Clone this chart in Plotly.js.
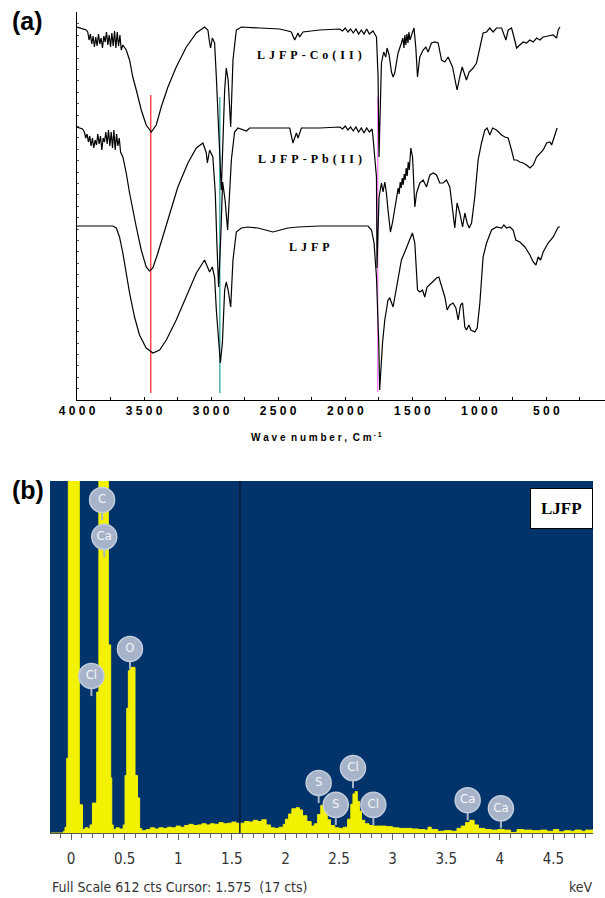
<!DOCTYPE html>
<html>
<head>
<meta charset="utf-8">
<script src="https://cdn.plot.ly/plotly-3.0.1.min.js"></script>
<style>html,body{margin:0;padding:0;background:#fff}#chart{width:605px;height:898px}</style>
</head>
<body>
<div id="chart"></div>
<script>
// ---------- Panel (a): FTIR spectra (wavenumber cm^-1, offset transmittance a.u.) ----------
const coWave = [4000,3931,3920,3910,3900,3890,3880,3870,3860,3850,3840,3830,3820,3810,3800,3790,3780,3770,3760,3750,3740,3730,3720,3710,3700,3690,3680,3670,3658,3633,3608,3584,3558,3521,3484,3446,3409,3372,3322,3260,3185,3110,3049,3024,3011,3004,2991,2974,2961,2949,2937,2924,2914,2899,2887,2873,2854,2837,2812,2775,2638,2489,2427,2402,2377,2352,2340,2315,2190,2041,2020,2000,1980,1960,1940,1920,1900,1880,1860,1840,1820,1800,1793,1767,1755,1748,1730,1713,1698,1688,1673,1655,1643,1631,1606,1581,1570,1562,1555,1548,1540,1532,1525,1518,1505,1487,1474,1461,1444,1419,1399,1382,1357,1332,1307,1282,1257,1233,1200,1183,1166,1146,1128,1113,1096,1076,1046,1021,996,972,946,922,897,872,834,822,802,785,760,742,722,698,673,648,623,598,573,548,524,487,449,424,412,399];
const coT    = [373,370,368,360,366,356,364,353,363,354,366,356,362,352,364,358,368,355,365,353,367,354,369,352,368,354,365,350,355,350,340,323,310,290,275,268,275,293,313,333,353,367,373,370,357,352,362,357,323,293,250,210,250,310,332,320,273,340,370,373,372,371,369,368,360,367,363,368,370,371,369,372,368,371,367,371,366,370,366,371,366,369,369,363,323,243,337,348,343,352,345,328,323,327,347,357,362,352,365,355,366,357,368,360,366,372,353,323,343,350,353,348,357,358,357,340,338,343,333,320,310,323,333,327,320,328,332,337,353,367,368,372,368,372,372,368,360,370,372,363,352,355,358,357,360,358,362,360,363,364,365,362,370,373];

const pbWave = [4000,3959,3945,3935,3925,3915,3905,3895,3885,3875,3865,3855,3845,3835,3825,3815,3805,3795,3785,3775,3765,3755,3745,3735,3725,3715,3705,3695,3685,3675,3658,3633,3608,3584,3558,3521,3484,3459,3434,3397,3360,3310,3248,3173,3110,3061,3036,3028,3011,2987,2969,2957,2944,2929,2914,2896,2877,2849,2825,2800,2737,2713,2414,2390,2364,2352,2327,2190,2040,2020,2000,1980,1960,1940,1920,1900,1880,1860,1840,1820,1800,1793,1780,1767,1763,1748,1730,1718,1705,1693,1681,1663,1648,1618,1605,1598,1590,1583,1575,1568,1560,1553,1545,1538,1530,1522,1515,1511,1498,1481,1468,1444,1419,1394,1369,1345,1319,1295,1270,1245,1220,1200,1183,1166,1146,1125,1108,1091,1076,1058,1034,1009,984,959,942,922,901,872,834,810,785,760,742,722,698,673,648,623,598,573,548,524,498,474,461,449,437,424,420];
const pbT    = [273,271,268,262,266,258,264,254,262,252,260,255,266,256,264,250,262,258,268,256,270,254,268,252,270,250,266,254,262,248,243,227,207,190,173,150,133,129,132,147,163,187,213,237,252,257,247,237,250,243,207,157,113,160,218,200,170,240,268,272,269,272,272,257,267,262,272,272,273,271,274,270,273,269,273,268,272,267,272,268,271,263,240,223,132,203,217,208,218,207,190,168,177,203,212,206,218,212,222,215,226,220,232,224,238,230,245,252,243,193,207,217,220,213,225,227,225,217,217,220,213,190,172,197,187,173,187,177,172,177,203,240,257,270,272,265,272,270,265,263,262,250,240,240,238,237,235,232,235,243,247,250,257,258,255,260,265,270,272];

const ljfpWave = [4000,3733,3707,3683,3658,3633,3608,3571,3534,3484,3434,3384,3334,3260,3185,3110,3049,3024,3011,2991,2974,2961,2949,2931,2916,2899,2887,2873,2854,2837,2812,2775,2725,2651,2539,2427,2352,2190,1830,1804,1785,1767,1750,1743,1722,1705,1681,1668,1643,1606,1581,1556,1519,1499,1481,1461,1444,1424,1407,1390,1357,1319,1302,1282,1257,1240,1220,1196,1175,1158,1140,1125,1108,1096,1078,1063,1034,1016,996,972,946,909,872,834,817,797,772,748,728,698,660,623,598,578,561,543,524,487,449,412,399];
const ljfpT    = [174,174,172,163,147,127,107,83,65,52,47,50,60,80,103,127,140,132,128,133,123,90,70,37,57,110,118,110,93,140,168,172,173,172,168,172,173,174,174,170,157,123,57,10,57,80,100,102,93,123,140,148,160,167,157,110,108,110,103,113,117,122,123,113,103,90,95,97,92,80,95,97,73,70,75,70,68,72,97,143,157,170,173,172,175,172,173,170,160,158,153,145,138,135,143,140,148,157,163,173,173];

const irTickVals = [4000,3500,3000,2500,2000,1500,1000,500];
const irTickText = ['4 0 0 0','3 5 0 0','3 0 0 0','2 5 0 0','2 0 0 0','1 5 0 0','1 0 0 0','5 0 0'];
const irMinorVals = [3750,3250,2750,2250,1750,1250,750,250];
const traceNames = ['LJFP-Co(II)','LJFP-Pb(II)','LJFP'];
const traceLabelWave = [2265,2265,2265];
const traceLabelT = [345,241,153];
// reference band markers
const bandWave = [3450,2935,1758];
const bandBottom = [7,7,8];
const bandTop = [305,303,303];
const bandColors = ['#ff3030','#2aa8a8','#ff88ff'];

// ---------- Panel (b): EDS spectrum ----------
const fullScale = 612, cursorE = 1.575, cursorCts = 17;
const edsE = [-0.19,-0.07,-0.056,-0.04,-0.025,0.077,0.107,0.13,0.16,0.177,0.20,0.24,0.26,0.348,0.37,0.38,0.394,0.42,0.45,0.487,0.504,0.52,0.535,0.55,0.597,0.62,0.64,0.66,0.70,0.74,0.78,0.82,0.86,0.90,0.94,0.98,1.02,1.06,1.10,1.14,1.18,1.22,1.26,1.30,1.34,1.38,1.42,1.46,1.50,1.54,1.58,1.62,1.66,1.70,1.74,1.78,1.82,1.86,1.90,1.94,1.98,2.00,2.03,2.06,2.10,2.13,2.16,2.20,2.24,2.27,2.30,2.33,2.36,2.39,2.42,2.46,2.50,2.54,2.58,2.61,2.63,2.65,2.67,2.69,2.71,2.74,2.78,2.82,2.88,2.94,3.00,3.06,3.12,3.18,3.24,3.30,3.33,3.36,3.42,3.48,3.55,3.60,3.64,3.68,3.72,3.76,3.80,3.86,3.92,3.98,4.04,4.10,4.16,4.22,4.30,4.38,4.44,4.50,4.55,4.60,4.66,4.70,4.76,4.80,4.87];
const edsCts = [0,3,10,130,1200,49,6,9,7,14,52,245,1100,327,96,14,6,9,7,14,100,217,282,288,100,61,8,4,6,9,7,9,8,10,9,12,10,13,15,13,14,16,14,16,15,18,16,17,19,17,17,20,19,22,20,23,14,9,8,10,15,24,33,42,44,40,30,20,12,16,32,48,38,23,13,9,8,10,24,50,68,72,55,38,22,16,13,12,12,11,9,8,8,7,6,5,10,6,3,4,3,8,12,18,22,14,8,6,5,6,5,1,6,5,4,5,3,6,2,4,3,5,3,5,4];
const elemNames = ['C','Ca','Cl','O','S','S','Cl','Cl','Ca','Ca'];
const elemE = [0.29,0.31,0.19,0.55,2.31,2.47,2.63,2.82,3.70,4.01];
const elemCts = [579,515,273,320,87,49,113,49,57,43];

const W = 605, H = 898;
const px = v => v / W, py = v => (H - v) / H;
const spaced = s => s.split('').join('\u2004');

const traces = [];
bandWave.forEach((w,i)=>traces.push({x:[w,w],y:[bandBottom[i],bandTop[i]],xaxis:'x',yaxis:'y',mode:'lines',
  line:{color:bandColors[i],width:1.3},hoverinfo:'skip',showlegend:false}));
[[coWave,coT],[pbWave,pbT],[ljfpWave,ljfpT]].forEach(([xw,yt])=>traces.push({x:xw,y:yt,xaxis:'x',yaxis:'y',mode:'lines',
  line:{color:'#000',width:1.2},showlegend:false}));

// EDS
traces.push({x:edsE,y:edsCts,xaxis:'x2',yaxis:'y2',mode:'lines',line:{shape:'hv',color:'#f2f200',width:1},
  fill:'tozeroy',fillcolor:'#f2f200',showlegend:false});
traces.push({x:[cursorE,cursorE],y:[0,fullScale],xaxis:'x2',yaxis:'y2',mode:'lines',line:{color:'#0b1a33',width:1.5},showlegend:false});
const stubX=[], stubY=[];
elemE.forEach((e,i)=>{stubX.push(e,e,null);stubY.push(elemCts[i]-18,elemCts[i]-35,null);});
traces.push({x:stubX,y:stubY,xaxis:'x2',yaxis:'y2',mode:'lines',line:{color:'#a9b5c9',width:2},showlegend:false});
traces.push({x:elemE,y:elemCts,xaxis:'x2',yaxis:'y2',mode:'markers+text',text:elemNames,textposition:'middle center',
  marker:{size:25,color:'#a6b3c8',line:{color:'#c3cddc',width:1.5}},
  textfont:{family:'DejaVu Sans Condensed, Liberation Sans Narrow, Arial',size:13,color:'#f4f6fa'},showlegend:false,cliponaxis:false});

const annotations = traceNames.map((t,i)=>({x:traceLabelWave[i],y:traceLabelT[i],xref:'x',yref:'y',text:spaced(t),showarrow:false,
  font:{family:'Liberation Serif, Times New Roman, serif',size:12,weight:'bold',color:'#000'}}));
annotations.push({xref:'paper',yref:'paper',x:px(10),y:py(21),xanchor:'left',yanchor:'middle',text:'(a)',showarrow:false,
  font:{family:'Liberation Sans, Arial',size:25,weight:'bold',color:'#000'}});
annotations.push({xref:'paper',yref:'paper',x:px(10),y:py(490),xanchor:'left',yanchor:'middle',text:'(b)',showarrow:false,
  font:{family:'Liberation Sans, Arial',size:25,weight:'bold',color:'#000'}});
annotations.push({xref:'paper',yref:'paper',x:px(316),y:py(437),xanchor:'center',yanchor:'middle',
  text:'W a v e  n u m b e r ,  C m<sup> - 1</sup>',showarrow:false,
  font:{family:'Liberation Sans, Arial',size:10,weight:'bold',color:'#000'}});
annotations.push({xref:'paper',yref:'paper',x:px(561),y:py(509),xanchor:'center',yanchor:'middle',text:'LJFP',showarrow:false,
  bgcolor:'#fff',bordercolor:'#000',borderwidth:1,borderpad:10,
  font:{family:'Liberation Serif, Times New Roman, serif',size:17,weight:'bold',color:'#000'}});
annotations.push({xref:'paper',yref:'paper',x:px(50),y:py(887),xanchor:'left',yanchor:'middle',
  text:'Full Scale '+fullScale+' cts Cursor: '+cursorE.toFixed(3)+'  ('+cursorCts+' cts)',showarrow:false,
  font:{family:'DejaVu Sans Condensed, Liberation Sans Narrow, Arial Narrow, sans-serif',size:14,color:'#333'}});
annotations.push({xref:'paper',yref:'paper',x:px(595),y:py(887),xanchor:'right',yanchor:'middle',text:'keV',showarrow:false,
  font:{family:'DejaVu Sans Condensed, Liberation Sans Narrow, Arial Narrow, sans-serif',size:14,color:'#333'}});

const layout = {
  width:W,height:H,margin:{l:0,r:0,t:0,b:0},paper_bgcolor:'#fff',plot_bgcolor:'rgba(0,0,0,0)',showlegend:false,
  xaxis:{domain:[px(77),1],range:[4000,63],anchor:'y',showline:true,linecolor:'#000',linewidth:1,showgrid:false,zeroline:false,
    tickmode:'array',tickvals:irTickVals,ticktext:irTickText,ticks:'inside',ticklen:3,tickcolor:'#000',
    minor:{tickmode:'array',tickvals:irMinorVals,ticks:'inside',ticklen:3,tickcolor:'#000',showgrid:false},
    tickfont:{family:'Liberation Sans, Arial',size:12,weight:'bold',color:'#000'}},
  yaxis:{domain:[py(400),py(12)],range:[0,388],anchor:'x',showline:true,linecolor:'#000',linewidth:1,showgrid:false,zeroline:false,
    tickmode:'linear',tick0:0,dtick:11.4,ticks:'inside',ticklen:2,tickcolor:'#555',showticklabels:false},
  xaxis2:{domain:[px(50),px(593)],range:[-0.196,4.869],anchor:'y2',showline:true,linecolor:'#555',linewidth:1,showgrid:false,zeroline:false,
    tickmode:'linear',tick0:0,dtick:0.5,ticks:'outside',ticklen:6,tickcolor:'#666',ticklabelstandoff:6,
    minor:{dtick:0.1,ticks:'outside',ticklen:4,tickcolor:'#666'},
    tickfont:{family:'DejaVu Sans Condensed, Liberation Sans Narrow, Arial Narrow, sans-serif',size:15,color:'#333'}},
  yaxis2:{domain:[py(833),py(481)],range:[0,fullScale],anchor:'x2',visible:false},
  shapes:[{type:'rect',xref:'x2 domain',yref:'y2 domain',x0:0,x1:1,y0:0,y1:1,fillcolor:'#02346b',line:{width:0},layer:'below'}],
  annotations:annotations
};
Plotly.newPlot('chart',traces,layout,{displayModeBar:false,staticPlot:true});
</script>
</body>
</html>
